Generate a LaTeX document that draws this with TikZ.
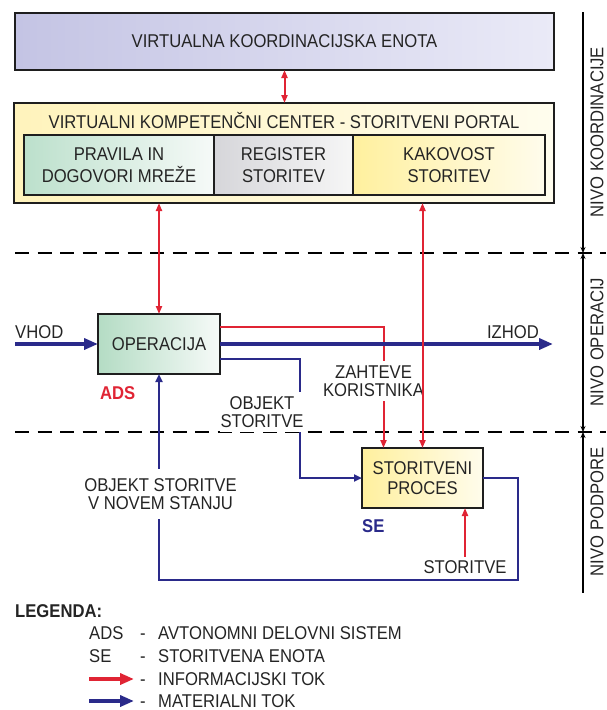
\documentclass[tikz,border=0pt]{standalone}
\usepackage{fontspec}
\setmainfont{Liberation Sans}[FakeStretch=0.9]
\usetikzlibrary{positioning, arrows.meta, calc}

\definecolor{infored}{RGB}{224,36,52}
\definecolor{matblue}{RGB}{42,42,138}
\definecolor{okvir}{RGB}{30,30,30}
\definecolor{besedilo}{RGB}{36,36,36}
\definecolor{vkeL}{RGB}{196,196,228}
\definecolor{vkeR}{RGB}{234,234,247}
\definecolor{portalL}{RGB}{255,243,188}
\definecolor{portalR}{RGB}{255,253,238}
\definecolor{pravilaL}{RGB}{188,224,204}
\definecolor{pravilaR}{RGB}{246,250,248}
\definecolor{registerL}{RGB}{214,214,218}
\definecolor{registerR}{RGB}{246,246,246}
\definecolor{kakovostL}{RGB}{255,240,158}
\definecolor{kakovostR}{RGB}{255,252,236}
\definecolor{operL}{RGB}{180,220,196}
\definecolor{operR}{RGB}{246,250,248}

\begin{document}
\begin{tikzpicture}[
    x = 1pt, y = -1pt,
    every node/.style = {font = \fontsize{18.5}{22.5}\selectfont, text = besedilo},
    mainbox/.style = {
      rectangle, draw = okvir, line width = 2.8pt,
      outer sep = 0pt, inner sep = 0pt, align = center
    },
    tag/.style = {
      fill = white, inner xsep = 1pt, inner ysep = 5pt, align = center,
      font = \fontsize{18.5}{17.5}\selectfont
    },
    oznaka/.style = {inner sep = 0pt, font = \fontsize{18.5}{20}\bfseries},
    leg/.style = {inner sep = 0pt, anchor = base west},
    info/.style    = {draw = infored, line width = 2pt, -{Triangle[length=8pt, width=6pt]}},
    binfo/.style   = {info, {Triangle[length=8pt, width=6pt]}-{Triangle[length=8pt, width=6pt]}},
    mat/.style     = {draw = matblue, line width = 2.2pt, -{Triangle[length=8pt, width=7pt]}},
    matflow/.style = {draw = matblue, line width = 4pt, -{Triangle[length=14pt, width=11pt]}},
    infoflow/.style = {draw = infored, line width = 4pt, -{Triangle[length=14pt, width=11pt]}},
    nivo/.style    = {black, line width = 2.4pt, dash pattern = on 14pt off 8.5pt},
    os/.style      = {black, line width = 1.2pt},
    ost/.tip       = {Stealth[length=6pt, width=5pt]}
  ]
  \useasboundingbox (0,0) rectangle (606,710);

  % Nivo koordinacije
  \node[mainbox, left color = vkeL, right color = vkeR,
        minimum width = 539pt, minimum height = 57pt] (vke) at (284.5,41.5)
    {VIRTUALNA KOORDINACIJSKA ENOTA};
  \node[mainbox, left color = portalL, right color = portalR,
        minimum width = 540pt, minimum height = 100pt] (portal) at (284,153) {};
  \node (naslov) at (284,121) {VIRTUALNI KOMPETENČNI CENTER - STORITVENI PORTAL};
  \node[mainbox, left color = pravilaL, right color = pravilaR,
        minimum width = 190pt, minimum height = 60pt] (pravila) at (119,165)
    {PRAVILA IN\\DOGOVORI MREŽE};
  \node[mainbox, left color = registerL, right color = registerR,
        minimum width = 139pt, minimum height = 60pt, right = 0pt of pravila] (register)
    {REGISTER\\STORITEV};
  \node[mainbox, left color = kakovostL, right color = kakovostR,
        minimum width = 192pt, minimum height = 60pt, right = 0pt of register] (kakovost)
    {KAKOVOST\\STORITEV};

  % Nivo operacij in podpore
  \node[mainbox, left color = operL, right color = operR,
        minimum width = 122pt, minimum height = 60pt] (oper) at (159,344) {OPERACIJA};
  \node[mainbox, left color = kakovostL, right color = kakovostR,
        minimum width = 121pt, minimum height = 60pt,
        font = \fontsize{18.5}{20}\selectfont] (proces) at (422.5,478)
    {STORITVENI\\PROCES};
  \node[oznaka, text = infored, below right = 12pt and 2pt of oper.south west] (ads) {ADS};
  \node[oznaka, text = matblue, below right = 11pt and 0pt of proces.south west] (se) {SE};

  \node[anchor = west, inner sep = 0pt] (vhod) at (15,332) {VHOD};
  \node[anchor = east, inner sep = 0pt] (izhod) at (539,332) {IZHOD};
  \node (storitve) at (465,567) {STORITVE};
  \coordinate (vhodz) at (15,344);
  \coordinate (izhodk) at (553,344);
  \coordinate (obkol) at (300,400);
  \coordinate (vogal) at (518,580);

  % Meje nivojev
  \draw[nivo] (15,253) -- (606,253);
  \draw[nivo] (15,432) -- (606,432);
  \coordinate (os1) at (583,12);
  \coordinate (os2) at (583,253);
  \coordinate (os3) at (583,432);
  \coordinate (os4) at (583,593);
  \draw[os, -ost]  (os1) -- (os2);
  \draw[os, ost-ost] (os2) -- (os3);
  \draw[os, ost-]  (os3) -- (os4);
  \node[rotate = 90] (nk) at (597,132) {NIVO KOORDINACIJE};
  \node[rotate = 90] (no) at (597,342) {NIVO OPERACIJ};
  \node[rotate = 90] (np) at (597,512) {NIVO PODPORE};

  % Tokovi
  \draw[binfo] (vke.south) -- (vke.south |- portal.north);
  \draw[binfo] (oper.north |- portal.south) -- (oper.north);
  \draw[info]  ([yshift=17pt]oper.east) -| ([xshift=-39pt]proces.north);
  \draw[mat]   ([yshift=-15pt]oper.east) -| (obkol) |- (proces.west);
  \draw[mat]   (proces.east) -| (vogal) -| (oper.south);
  \draw[info]  (storitve.north) -- (storitve.north |- proces.south);
  \draw[matflow] (vhodz) -- (oper.west);
  \draw[matflow] (oper.east) -- (izhodk);

  \node[tag] (zahteve) at (373.5,381) {ZAHTEVE\\KORISTNIKA};
  \node[tag] (objekt) at (262,412) {OBJEKT\\STORITVE};
  \node[tag, inner ysep = 10pt] (novo) at (160.5,494) {OBJEKT STORITVE\\V NOVEM STANJU};

  \draw[binfo] (proces.north |- portal.south) -- (proces.north);

  % Legenda
  \node[oznaka, anchor = base west] (legenda) at (15,617) {LEGENDA:};
  \node[leg] (l1a) at (89,639.5) {ADS};
  \node[leg] (l1b) at (140,639.5) {-};
  \node[leg] (l1c) at (158,639.5) {AVTONOMNI DELOVNI SISTEM};
  \node[leg] (l2a) at (89,662.5) {SE};
  \node[leg] (l2b) at (140,662.5) {-};
  \node[leg] (l2c) at (158,662.5) {STORITVENA ENOTA};
  \coordinate (l3z) at (89,679);
  \coordinate (l3k) at (134,679);
  \draw[infoflow] (l3z) -- (l3k);
  \node[leg] (l3b) at (140,685.5) {-};
  \node[leg] (l3c) at (158,685.5) {INFORMACIJSKI TOK};
  \coordinate (l4z) at (89,701);
  \coordinate (l4k) at (134,701);
  \draw[matflow] (l4z) -- (l4k);
  \node[leg] (l4b) at (140,707.5) {-};
  \node[leg] (l4c) at (158,707.5) {MATERIALNI TOK};

\end{tikzpicture}
\end{document}
